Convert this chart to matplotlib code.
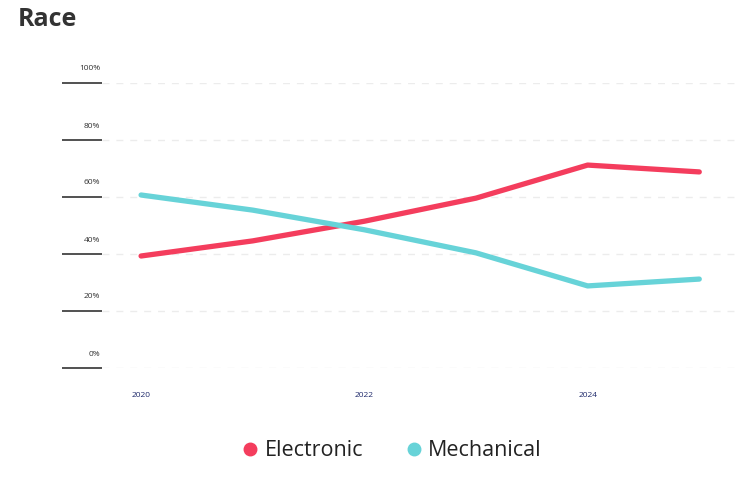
import numpy as np
import matplotlib.pyplot as plt
from matplotlib.lines import Line2D

plt.rcParams['font.family'] = ['Open Sans', 'DejaVu Sans']

# 数据
years = [2020, 2021, 2022, 2023, 2024, 2025]
electronic = [39.3, 44.6, 51.5, 59.6, 71.2, 68.8]
mechanical = [60.7, 55.4, 48.5, 40.4, 28.8, 31.2]
y_ticks = [0, 20, 40, 60, 80, 100]
x_ticks = [2020, 2022, 2024]

red = '#f43d5d'
teal = '#67d3d8'

fig = plt.figure(figsize=(7.52, 4.87), dpi=100)
ax = fig.add_axes([102/752, 1-368/487, (735-102)/752, (368-83)/487])

ax.plot(years, electronic, c=red, lw=3.8, solid_capstyle='round', solid_joinstyle='round', clip_on=False)
ax.plot(years, mechanical, c=teal, lw=3.8, solid_capstyle='round', solid_joinstyle='round', clip_on=False)

ax.set_xlim(2019.65, 2025.32)
ax.set_ylim(0, 100)

# 网格线
for v in y_ticks:
    ax.axhline(v, color='#ececec', lw=1, ls=(0, (5, 5)), zorder=0)

for s in ax.spines.values():
    s.set_visible(False)

ax.set_yticks(y_ticks)
ax.set_yticklabels([])
ax.tick_params(axis='y', length=29, width=1.2, color='#333333', direction='out')

# y轴标签在刻度线上方
for v in y_ticks:
    ax.annotate(f'{v}%', xy=(0, v), xycoords=('axes fraction', 'data'),
                xytext=(-2, 14), textcoords='offset pixels',
                ha='right', va='center', fontsize=6, color='#333333')

ax.set_xticks(x_ticks)
ax.set_xticklabels([str(x) for x in x_ticks], fontsize=6, color='#1f2a6b')
ax.tick_params(axis='x', length=0, pad=17)

fig.text(18/752, 1-19/487, 'Race', fontsize=18, fontweight='bold', color='#333333', ha='left', va='center')

handles = [Line2D([], [], marker='o', ls='', color=red, markersize=9),
           Line2D([], [], marker='o', ls='', color=teal, markersize=9)]
fig.legend(handles, ['Electronic', 'Mechanical'], loc='center', bbox_to_anchor=(392/752, 1-451/487),
           ncol=2, frameon=False, fontsize=15.5, handlelength=0.7,
           handletextpad=0.3, columnspacing=2.0, labelcolor='#222222')

fig.savefig('out.png', dpi=100)
